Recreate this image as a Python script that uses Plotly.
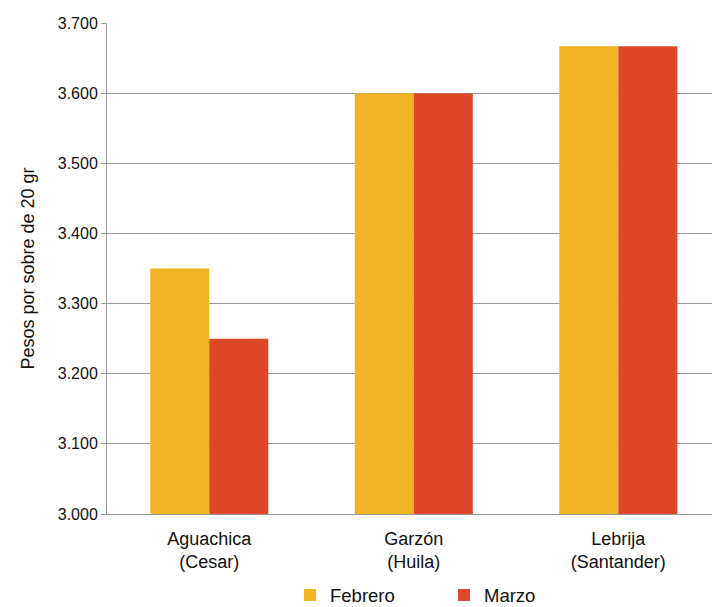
import plotly.graph_objects as go

categories = ["Aguachica<br>(Cesar)", "Garzón<br>(Huila)", "Lebrija<br>(Santander)"]
febrero = [3350, 3600, 3667]
marzo = [3250, 3600, 3667]
tick_vals = [3000, 3100, 3200, 3300, 3400, 3500, 3600, 3700]

fig = go.Figure()
fig.add_trace(go.Bar(name="Febrero", x=categories, y=febrero, marker=dict(color="#F0B323", line=dict(width=0))))
fig.add_trace(go.Bar(name="Marzo", x=categories, y=marzo, marker=dict(color="#DE4728", line=dict(width=0))))

fig.update_layout(
    width=712, height=607,
    margin=dict(l=107, r=0, t=23, b=93, autoexpand=False),
    paper_bgcolor="white", plot_bgcolor="white",
    font=dict(family="Liberation Sans", size=16, color="#111111"),
    barmode="group", bargap=0.423, bargroupgap=0,
    separators=",.",
    showlegend=True,
    legend=dict(orientation="h", x=0.3025, xanchor="left", y=-0.166, yanchor="middle",
                font=dict(size=18.5), traceorder="normal", entrywidth=109),
)
fig.update_xaxes(range=[-0.5, 2.458], showline=True, linecolor="#999999", linewidth=1,
                 ticks="", tickfont=dict(size=18), showgrid=False, ticklabelstandoff=8)
fig.update_yaxes(range=[3000, 3700], tickvals=tick_vals, tickformat=",", showgrid=True,
                 gridcolor="#999999", gridwidth=1, showline=True, linecolor="#999999",
                 ticks="outside", ticklen=5, tickcolor="#999999", tickfont=dict(size=16),
                 title=dict(text="Pesos por sobre de 20 gr", font=dict(size=18), standoff=18),
                 zeroline=False)

fig.write_html("out.html", config={"displayModeBar": False},
               post_script="document.body.style.margin='0';document.body.style.overflow='hidden';")
